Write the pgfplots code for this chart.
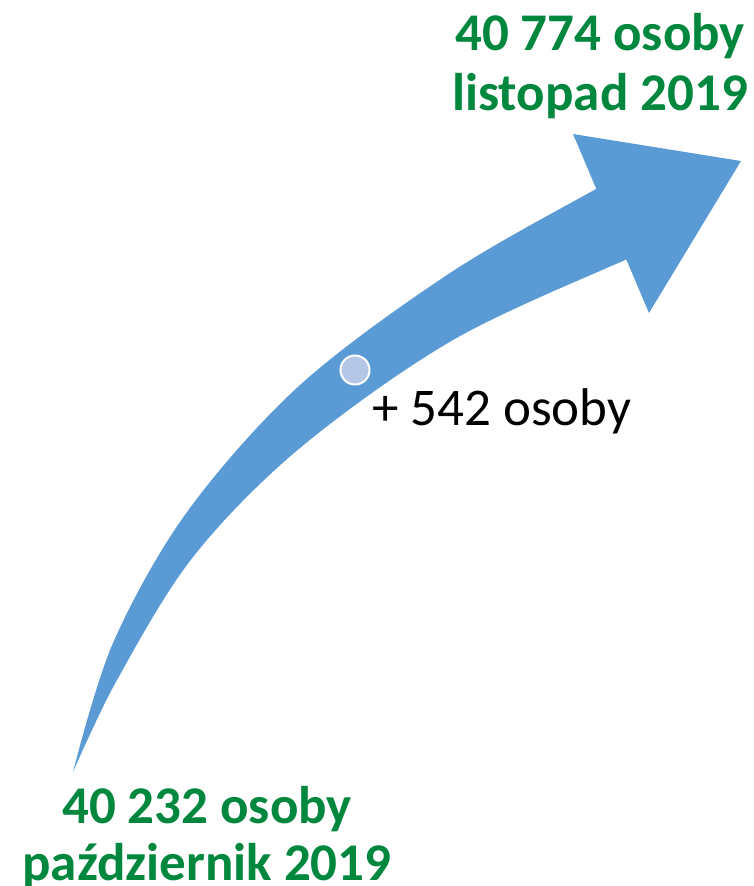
\documentclass[border=0pt]{standalone}
\usepackage{fontspec}
\setmainfont{Carlito}
\usepackage{pgfplots}
\pgfplotsset{compat=1.18}
\definecolor{arrowblue}{HTML}{5B9BD5}
\definecolor{dotblue}{HTML}{B4C7E7}
\definecolor{txtgreen}{HTML}{00873E}
\begin{document}
\begin{tikzpicture}
\begin{axis}[
  scale only axis, width=753pt, height=886pt,
  xmin=0, xmax=753, ymin=0, ymax=886,
  y dir=reverse, hide axis, clip=false,
]
% arrow body: upper (outer) edge tail -> head, then lower (inner) edge head -> tail
\addplot[fill=arrowblue, draw=none, smooth, tension=0.55] coordinates {
 (73,772) (113,643) (187,512) (300,385) (450,273) (596,189) (640,166)
 (665,200)
 (665,244) (625,260) (453,340) (300,448) (193,557) (117,680) (73,772)} -- cycle;
% arrow head
\addplot[fill=arrowblue, draw=none] coordinates {(573,134) (741,161) (649,313)} -- cycle;
% marker on the arrow
\addplot[only marks, mark=*, mark size=14.5pt, mark options={fill=dotblue, draw=white, line width=2pt}] coordinates {(355,370)};
% labels
\node[anchor=base, font=\fontsize{53}{58}\selectfont\bfseries, text=txtgreen] at (axis cs:600,50) {40 774 osoby};
\node[anchor=base, font=\fontsize{53}{58}\selectfont\bfseries, text=txtgreen] at (axis cs:600,110) {listopad 2019};
\node[anchor=base, font=\fontsize{53}{58}\selectfont\bfseries, text=txtgreen] at (axis cs:207,823) {40 232 osoby};
\node[anchor=base, font=\fontsize{53}{58}\selectfont\bfseries, text=txtgreen] at (axis cs:207,880) {październik 2019};
\node[anchor=base west, inner sep=0pt, font=\fontsize{53}{58}\selectfont, text=black] at (axis cs:372,425) {+ 542 osoby};
\end{axis}
\pgfresetboundingbox
\path[use as bounding box] (0,0) rectangle (753pt,886pt);
\end{tikzpicture}
\end{document}
